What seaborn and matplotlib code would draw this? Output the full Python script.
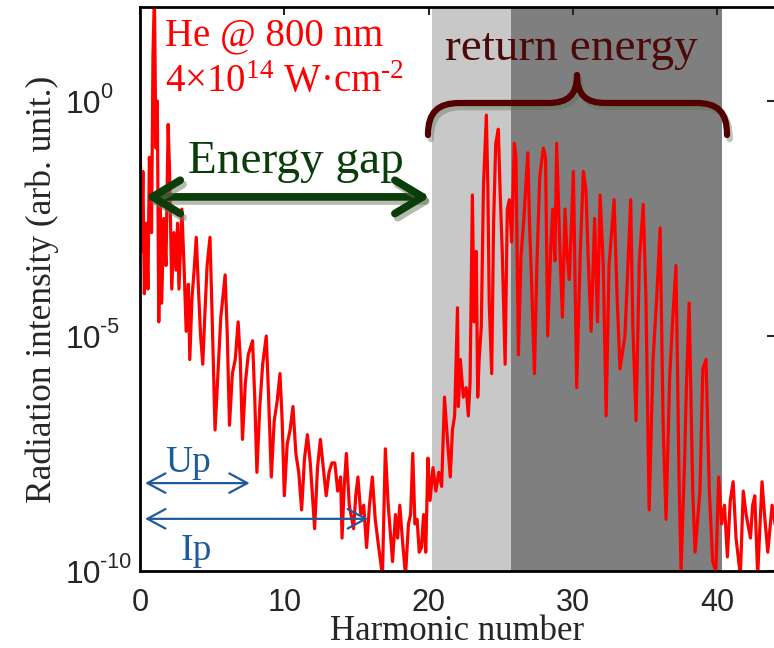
import matplotlib
matplotlib.use('Agg')
import numpy as np
import pandas as pd
import matplotlib.pyplot as plt
import matplotlib.patheffects as pe
import matplotlib.transforms as mtrans
from matplotlib.path import Path
from matplotlib.patches import PathPatch
import seaborn as sns

# spectrum: harmonic order and log10 of the intensity
harmonic = [
    0.0, 0.1, 0.2, 0.3, 0.45, 0.55, 0.65, 0.8, 0.9, 1.0, 1.1, 1.2, 1.3, 1.4, 1.5,
    1.65, 1.8, 1.95, 2.05, 2.2, 2.35, 2.5, 2.6, 2.7, 2.9, 3.05, 3.2, 3.35, 3.45, 3.6,
    3.75, 3.9, 4.05, 4.2, 4.35, 4.5, 4.65, 4.85, 5.0, 5.2, 5.4, 5.6, 5.9, 6.05, 6.2,
    6.4, 6.6, 6.8, 6.95, 7.1, 7.3, 7.5, 7.8, 7.95, 8.1, 8.3, 8.5, 8.75, 8.9, 9.1,
    9.3, 9.5, 9.7, 9.85, 10.0, 10.2, 10.4, 10.6, 10.8, 11.0, 11.2, 11.4, 11.6, 11.8, 12.1,
    12.3, 12.5, 12.7, 12.9, 13.1, 13.3, 13.5, 13.7, 13.9, 14.0, 14.15, 14.3, 14.5, 14.8, 14.95,
    15.1, 15.3, 15.5, 15.7, 15.9, 16.1, 16.3, 16.5, 16.8, 17.0, 17.2, 17.35, 17.5, 17.7, 17.85,
    18.0, 18.2, 18.4, 18.6, 18.75, 18.9, 19.05, 19.2, 19.35, 19.5, 19.65, 19.8, 19.95, 20.1, 20.3,
    20.5, 20.7, 20.9, 21.1, 21.3, 21.5, 21.65, 21.8,
    22.0, 22.06, 22.2, 22.4, 22.6, 22.75, 22.87, 23.03, 23.15, 23.3, 23.4, 23.5, 23.65, 23.8,
    24.0, 24.1, 24.2, 24.37, 24.5, 24.65, 24.83, 24.95, 25.1, 25.3, 25.45, 25.6, 25.75, 25.94,
    26.05, 26.22, 26.4, 26.6, 26.87, 27.0, 27.15, 27.33, 27.5, 27.7, 27.95, 28.1, 28.25, 28.45,
    28.6, 28.75, 28.87, 29.1, 29.27, 29.45, 29.6, 29.75, 30.03, 30.26, 30.5, 30.72, 30.9, 31.05,
    31.26, 31.5, 31.7, 31.88, 32.1, 32.3, 32.5, 32.85, 33.05, 33.26, 33.6, 34.0, 34.15, 34.37,
    34.6, 34.87, 35.05, 35.28, 35.55, 35.8, 36.04, 36.25, 36.45, 36.7, 36.9, 37.14, 37.35, 37.49,
    37.75, 37.85, 38.05, 38.3, 38.46, 38.8, 39.0, 39.22, 39.45, 39.68, 39.9, 40.1, 40.3, 40.5,
    40.7, 40.9, 41.1, 41.3, 41.6, 41.8, 42.0, 42.3, 42.45, 42.6, 42.8, 43.1, 43.3, 43.5, 43.8, 44.0,
]
log_intensity = [
    -0.4, -3.2, -1.5, -4.1, -2.6, -4.0, -1.2, -2.8, 1.0, 2.3, -1.0, 0.0, -4.7, -2.0, -4.3,
    -2.5, -3.5, -0.5, -1.5, -4.0, -2.8, -3.6, -2.6, -4.0, -2.3, -3.5, -4.9, -3.9, -5.5, -4.2,
    -3.6, -2.9, -4.0, -5.0, -5.6, -4.5, -3.5, -2.9, -4.6, -7.0, -5.8, -4.6, -3.7, -5.0, -6.9,
    -5.8, -5.5, -4.7, -5.5, -7.2, -6.0, -5.4, -5.1, -6.3, -7.9, -6.5, -5.6, -5.0, -6.2, -8.0,
    -6.8, -6.4, -5.8, -6.8, -8.4, -7.3, -7.0, -6.5, -7.5, -7.9, -8.7, -7.6, -7.1, -7.7, -9.1,
    -7.8, -7.2, -7.8, -8.4, -7.9, -7.7, -7.7, -8.3, -8.0, -9.3, -8.2, -7.5, -8.6, -9.1, -8.4,
    -8.0, -8.8, -8.6, -9.5, -8.6, -8.0, -8.9, -9.4, -10.1, -7.4, -8.6, -9.2, -9.8, -8.8, -9.3,
    -8.6, -9.4, -10.1, -9.0, -8.8, -7.5, -9.0, -8.9, -9.6, -9.5, -8.8, -9.6, -7.6, -8.5, -7.8,
    -8.3, -7.9, -8.2, -6.3, -7.2, -8.0, -7.0, -6.7,
    -4.4, -6.5, -5.5, -6.3, -6.1, -6.7, -6.0, -2.0, -4.7, -3.2, -6.3, -5.5, -4.8, -1.8,
    -0.3, -1.8, -4.3, -5.8, -2.6, -0.9, -0.6, -1.9, -3.2, -5.6, -2.3, -2.1, -3.0, -0.9,
    -1.2, -5.4, -3.3, -2.5, -1.1, -2.7, -4.0, -5.8, -3.5, -1.6, -1.0, -1.2, -5.0, -3.2,
    -2.3, -3.4, -0.9, -3.2, -4.6, -2.3, -3.3, -3.8, -1.5, -6.1, -3.3, -1.5, -1.9, -3.3,
    -4.9, -2.5, -4.7, -2.0, -3.5, -6.7, -3.5, -2.1, -4.1, -5.7, -5.0, -2.1, -4.8, -6.8,
    -3.4, -2.2, -4.1, -8.7, -5.5, -4.2, -2.7, -6.9, -8.9, -5.9, -4.7, -3.5, -8.0, -10.0,
    -7.5, -6.2, -4.3, -8.3, -9.6, -8.3, -5.7, -5.5, -8.3, -9.8, -10.0, -8.0, -9.0, -8.6,
    -9.7, -8.5, -8.1, -9.3, -10.1, -8.3, -8.8, -9.3, -8.6, -8.4, -10.1, -8.1, -8.9, -9.6, -8.6, -9.0,
]

x_ticks = [0, 10, 20, 30, 40]
y_exponents = [-10, -5, 0]

# shaded bands (harmonic order)
short_band = (20.2, 25.7)
long_band = (25.7, 40.3)
# arrow extents (harmonic from, harmonic to, log10 height)
gap_arrow = (0.35, 20.1, -2.04)
up_arrow = (0.35, 7.6, -8.13)
ip_arrow = (0.35, 15.8, -8.89)

W, H = 774, 648


def fpx(x, y):
    # pixel position (from top-left) -> figure fraction
    return (x / W, 1 - y / H)


sns.set_style('white')
plt.rcParams['font.family'] = ['Liberation Serif', 'DejaVu Serif']
plt.rcParams['mathtext.fontset'] = 'custom'
plt.rcParams['mathtext.rm'] = 'Liberation Serif'
plt.rcParams['mathtext.it'] = 'Liberation Serif:italic'

df = pd.DataFrame({'harmonic': harmonic,
                   'intensity': 10.0 ** np.array(log_intensity)})

fig = plt.figure(figsize=(W / 100, H / 100), dpi=100)
ax = fig.add_axes([140 / W, 1 - 571 / H, 635 / W, 564 / H])

ax.axvspan(*short_band, color='#c8c8c8', lw=0, zorder=0)
ax.axvspan(*long_band, color='#7f7f7f', lw=0, zorder=0)

sns.lineplot(data=df, x='harmonic', y='intensity', ax=ax, color='#ff0000',
             linewidth=2.3, estimator=None, zorder=2)

ax.set_yscale('log')
ax.set_xlim(0, 44)
ax.set_ylim(1e-10, 1e2)
ax.set_xticks(x_ticks)
ax.set_yticks([10.0 ** e for e in y_exponents])
ax.yaxis.set_minor_locator(matplotlib.ticker.NullLocator())
ax.set_yticklabels([])
ax.tick_params(direction='in', length=6, width=1.5, top=True, right=True,
               labelsize=22, labelfontfamily='Liberation Sans')
ax.tick_params(axis='x', pad=12)
for s in ax.spines.values():
    s.set_linewidth(2)
    s.set_color('black')

# MATLAB-like y tick labels: left aligned "10" with a raised exponent
ytrans = mtrans.blended_transform_factory(fig.transFigure, ax.transData)
for e in y_exponents:
    base = ytrans + mtrans.ScaledTranslation(0, -0.115, fig.dpi_scale_trans)
    sup = ytrans + mtrans.ScaledTranslation(0, 0.03, fig.dpi_scale_trans)
    fig.text(66 / W, 10.0 ** e, '10', transform=base, fontsize=23,
             family='Liberation Sans', ha='left', va='baseline')
    fig.text(100 / W, 10.0 ** e, str(e), transform=sup, fontsize=15.5,
             family='Liberation Sans', ha='left', va='baseline')

ax.set_xlabel('Harmonic number', fontsize=25)
ax.set_ylabel('Radiation intensity (arb. unit.)', fontsize=25.5)
ax.xaxis.set_label_coords(0.5, -0.078)
ax.yaxis.set_label_coords(-0.128, 0.5)

# energy gap arrow
x0, x1, ly = gap_arrow
ax.annotate('', xy=(x0, 10 ** ly), xytext=(x1, 10 ** ly),
            arrowprops=dict(arrowstyle='<->,head_length=1.0,head_width=0.6',
                            color='#0b3d0b', lw=5.5, mutation_scale=20,
                            capstyle='round', shrinkA=0, shrinkB=0,
                            path_effects=[pe.SimpleLineShadow(offset=(2, -3), shadow_color='#6b7b60', alpha=0.5),
                                          pe.Normal()]),
            zorder=5)
fig.text(*fpx(188, 173), 'Energy gap', fontsize=34, color='#0b3d0b')

for (a0, a1, ay) in (up_arrow, ip_arrow):
    ax.annotate('', xy=(a0, 10 ** ay), xytext=(a1, 10 ** ay),
                arrowprops=dict(arrowstyle='<->,head_length=1.3,head_width=0.7',
                                color='#1f5b99', lw=1.6, mutation_scale=10,
                                shrinkA=0, shrinkB=0), zorder=5)
fig.text(*fpx(165, 472), 'Up', fontsize=27, color='#1f5b99')
fig.text(*fpx(181, 560), 'Ip', fontsize=27, color='#1f5b99')

fig.text(*fpx(165, 45), 'He @ 800 nm', fontsize=28, color='#ff0000')
fig.text(*fpx(165, 92), r'4×10$^{14}$ W·cm$^{\text{-2}}$', fontsize=28, color='#ff0000')

fig.text(*fpx(445, 60), 'return energy', fontsize=34, color='#4a0a0a')

brace_px = [(428, 135), (428, 112), (438, 103), (460, 103),
            (548, 103),
            (568, 103), (577, 95), (577, 75),
            (577, 95), (586, 103), (606, 103),
            (696, 103),
            (718, 103), (727, 112), (727, 135)]
codes = [Path.MOVETO] + [Path.CURVE4] * 3 + [Path.LINETO] + [Path.CURVE4] * 6 + \
        [Path.LINETO] + [Path.CURVE4] * 3
brace = PathPatch(Path([fpx(*p) for p in brace_px], codes), transform=fig.transFigure,
                  fill=False, edgecolor='#520000', lw=4.5, capstyle='round',
                  joinstyle='round',
                  path_effects=[pe.SimpleLineShadow(offset=(2, -3), shadow_color='#5d7050', alpha=0.4),
                                pe.Normal()])
fig.add_artist(brace)

fig.savefig('out.png', dpi=100)
